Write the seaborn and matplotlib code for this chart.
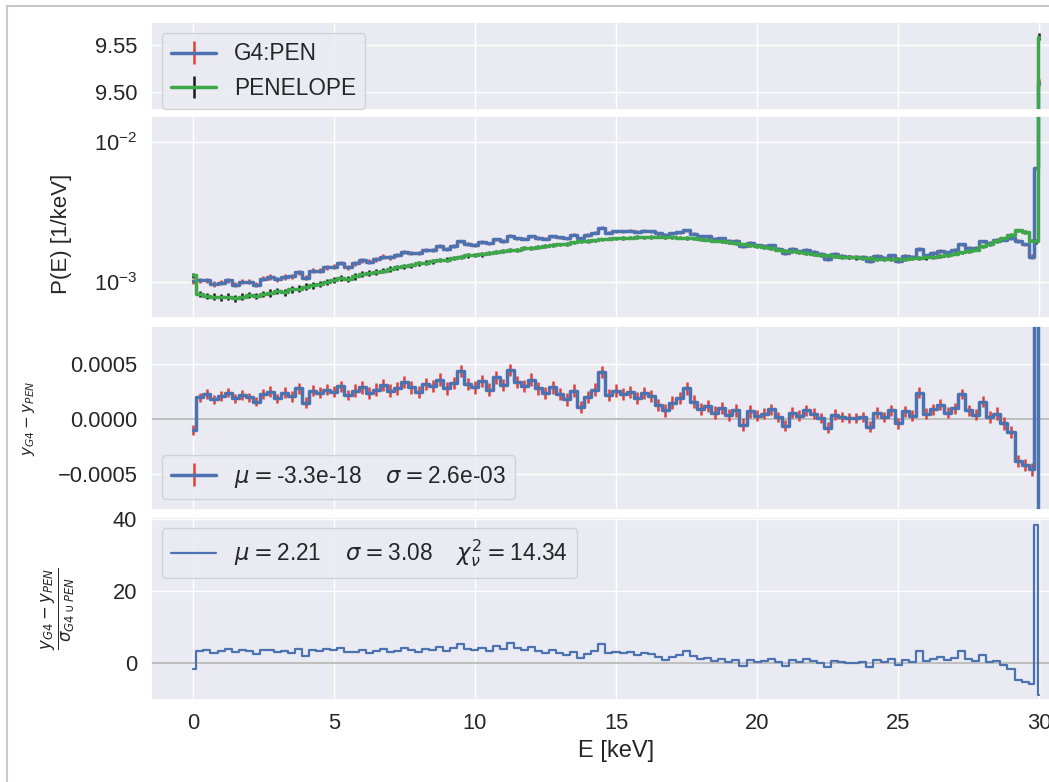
import numpy as np
import matplotlib
matplotlib.use("Agg")
import matplotlib.pyplot as plt
import seaborn as sns
from matplotlib.lines import Line2D

# energy bins [keV] (0.25 keV bins, then the two last bins at the 30 keV line)
energy = np.concatenate([np.arange(0, 29.76, 0.25), [29.9, 30.0]])

# PENELOPE spectrum P(E), in units of 1e-3 / keV
pen_e3 = [
    1.12, 0.83, 0.80, 0.79, 0.78, 0.79, 0.77, 0.79, 0.81, 0.80,
    0.83, 0.84, 0.86, 0.85, 0.89, 0.90, 0.93, 0.95, 0.97, 1.01,
    1.04, 1.07, 1.06, 1.10, 1.14, 1.16, 1.19, 1.21, 1.24, 1.28,
    1.30, 1.32, 1.36, 1.38, 1.41, 1.44, 1.45, 1.49, 1.51, 1.55,
    1.56, 1.58, 1.62, 1.64, 1.66, 1.70, 1.71, 1.74, 1.76, 1.79,
    1.80, 1.84, 1.86, 1.88, 1.92, 1.95, 1.97, 1.99, 2.02, 2.04,
    2.05, 2.07, 2.08, 2.10, 2.09, 2.10, 2.11, 2.10, 2.09, 2.08,
    2.07, 2.05, 2.03, 2.01, 1.98, 1.95, 1.92, 1.89, 1.86, 1.83,
    1.80, 1.77, 1.74, 1.71, 1.68, 1.66, 1.63, 1.61, 1.59, 1.57,
    1.55, 1.54, 1.52, 1.51, 1.50, 1.49, 1.48, 1.47, 1.46, 1.47,
    1.46, 1.47, 1.48, 1.49, 1.50, 1.52, 1.54, 1.57, 1.60, 1.63,
    1.67, 1.71, 1.80, 1.88, 1.95, 2.05, 2.18, 2.35, 2.28, 1.98,
    1.95, 9559.0,
]

# y_G4 - y_PEN, in units of 1e-4 / keV
diff_e4 = [
    -1.0, 2.0, 2.3, 1.8, 2.1, 2.4, 1.9, 2.2, 2.0, 1.6,
    2.3, 2.5, 1.9, 2.4, 2.1, 2.8, 1.5, 2.6, 2.4, 2.7,
    2.5, 3.0, 2.2, 2.6, 2.9, 2.4, 2.7, 3.1, 2.6, 2.8,
    3.4, 2.9, 2.5, 3.2, 3.0, 3.6, 2.8, 3.3, 4.4, 3.2,
    2.9, 3.5, 2.7, 3.8, 3.1, 4.5, 3.4, 3.0, 3.6, 2.8,
    2.4, 2.9, 2.3, 1.8, 2.6, 1.1, 2.0, 2.7, 4.3, 2.2,
    2.6, 2.3, 2.5, 1.9, 2.4, 2.1, 1.3, 0.8, 1.5, 1.9,
    2.8, 1.6, 0.9, 1.2, 0.6, 1.0, 0.4, 0.8, -0.5, 0.7,
    0.3, 0.5, 0.9, 0.2, -0.6, 0.6, 0.3, 0.8, 0.5, 0.1,
    -0.8, 0.4, 0.2, 0.1, 0.1, 0.2, -0.7, 0.6, 0.2, 0.8,
    -0.4, 0.7, 0.3, 2.4, 0.5, 0.9, 1.3, 0.6, 1.0, 2.3,
    0.8, 0.4, 1.6, 0.2, 0.5, -0.4, -1.2, -3.8, -4.2, -4.6,
    45.5, -490.0,
]

# combined uncertainty sigma_G4uPEN, in units of 1e-5 / keV
sigma_e5 = [
    6, 6, 6, 6, 6, 6, 6, 6, 6, 6,
    6, 7, 6, 7, 7, 7, 7, 7, 7, 7,
    7, 7, 7, 8, 8, 8, 8, 8, 8, 8,
    8, 8, 8, 8, 8, 8, 8, 8, 8, 8,
    8, 8, 8, 8, 8, 8, 8, 8, 8, 8,
    8, 8, 8, 8, 8, 8, 8, 8, 8, 8,
    8, 8, 8, 8, 8, 8, 8, 8, 8, 8,
    8, 8, 8, 8, 8, 8, 8, 8, 8, 8,
    7, 7, 7, 7, 7, 7, 7, 7, 7, 7,
    7, 7, 7, 7, 7, 7, 7, 7, 7, 7,
    7, 7, 7, 7, 7, 7, 7, 7, 7, 7,
    7, 7, 7, 8, 8, 8, 8, 8, 8, 8,
    11.8, 563,
]

diff_label = r"$\mu = $-3.3e-18    $\sigma = $2.6e-03"
resid_label = r"$\mu = $2.21    $\sigma = $3.08    $\chi^2_\nu = $14.34"

p_pen = np.array(pen_e3) * 1e-3
diff = np.array(diff_e4) * 1e-4
sigma = np.array(sigma_e5) * 1e-5
p_g4 = p_pen + diff
err = sigma / np.sqrt(2)
resid = diff / sigma

sns.set_theme(style="darkgrid", font_scale=1.43)
plt.rcParams["font.family"] = ["Liberation Sans", "DejaVu Sans"]
plt.rcParams["legend.fontsize"] = 16.3

blue, red, green = "#4C72B0", "#E0403A", "#3DA84A"

fig = plt.figure(figsize=(10.49, 7.82), dpi=100)
left, width = 0.1435, 0.8875
ax_top = fig.add_axes([left, 0.8593, width, 0.1125])
ax_log = fig.add_axes([left, 0.5934, width, 0.2583], sharex=ax_top)
ax_diff = fig.add_axes([left, 0.3478, width, 0.2353], sharex=ax_top)
ax_res = fig.add_axes([left, 0.1049, width, 0.2340], sharex=ax_top)

# spectra (top panel is the broken part of the axis for the 30 keV line)
for ax in (ax_top, ax_log):
    ax.errorbar(energy, p_g4, yerr=err, color=blue, ecolor=red, lw=2.5,
                elinewidth=1.8, drawstyle="steps-mid", label="G4:PEN")
    ax.errorbar(energy, p_pen, yerr=err, color=green, ecolor="k", lw=2.5,
                elinewidth=1.8, drawstyle="steps-mid", label="PENELOPE")

ax_top.set_ylim(9.481, 9.5745)
ax_top.set_yticks([9.50, 9.55])
ax_top.yaxis.set_major_formatter("{x:.2f}")
ax_top.legend(loc="upper left")

ax_log.set_yscale("log")
ax_log.set_ylim(5.56e-4, 1.53e-2)
ax_log.yaxis.set_minor_formatter(matplotlib.ticker.NullFormatter())
ax_log.set_ylabel("P(E) [1/keV]", fontsize=16)
ax_log.yaxis.set_label_coords(-0.084, 0.416)

# absolute difference
ax_diff.axhline(0, color="0.75", lw=1.5, zorder=1)
ax_diff.errorbar(energy, diff, yerr=err, color=blue, ecolor=red, lw=2.5,
                 elinewidth=1.8, drawstyle="steps-mid", label=diff_label)
ax_diff.set_ylim(-0.00083, 0.00085)
ax_diff.set_yticks([-0.0005, 0.0, 0.0005])
ax_diff.yaxis.set_major_formatter("{x:.4f}")
ax_diff.legend(loc="lower left")
ax_diff.set_ylabel(r"$y_{G4} - y_{PEN}$", fontsize=11)
ax_diff.yaxis.set_label_coords(-0.122, 0.5)

# normalised residuals
ax_res.axhline(0, color="0.75", lw=1.5, zorder=1)
sns.lineplot(x=energy, y=resid, ax=ax_res, color=blue, lw=1.6,
             drawstyle="steps-mid", label=resid_label)
ax_res.set_ylim(-10.2, 40.7)
ax_res.set_yticks([0, 20, 40])
ax_res.legend(loc="upper left")
ax_res.set_ylabel(r"$\frac{y_{G4} - y_{PEN}}{\sigma_{G4 \cup PEN}}$", fontsize=17)
ax_res.yaxis.set_label_coords(-0.0795, 0.5)
ax_res.set_xlabel("E [keV]", fontsize=17)

ax_res.set_xlim(-1.5, 31.5)
ax_res.set_xticks([0, 5, 10, 15, 20, 25, 30])
for ax in (ax_top, ax_log, ax_diff):
    ax.tick_params(labelbottom=False)

# screenshot frame
fig.add_artist(Line2D([7 / 1049, 7 / 1049], [0, 1 - 6 / 782], color="#c8c8c8", lw=1.5))
fig.add_artist(Line2D([7 / 1049, 1], [1 - 6 / 782, 1 - 6 / 782], color="#c8c8c8", lw=1.5))

fig.savefig("out.png", dpi=100)
